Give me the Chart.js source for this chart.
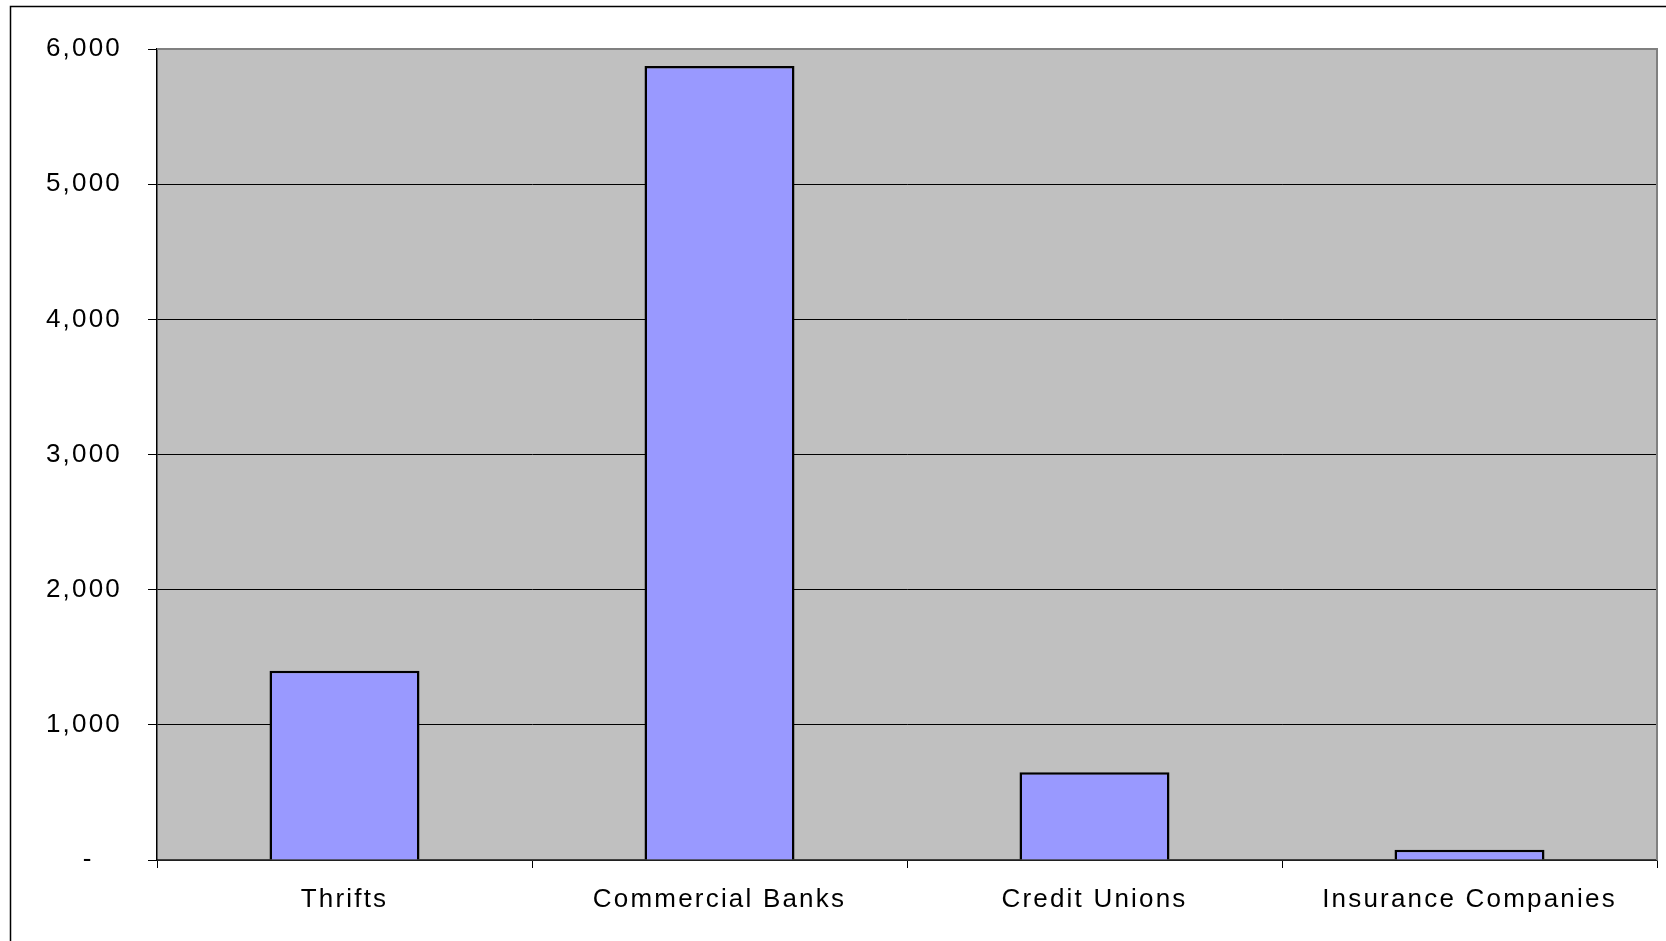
<!DOCTYPE html>
<html>
<head>
<meta charset="utf-8">
<script src="https://cdn.jsdelivr.net/npm/chart.js@4"></script>
<style>
  html, body { margin: 0; padding: 0; background: #fff; overflow: hidden; }
  #wrap { position: relative; width: 1666px; height: 941px; }
</style>
</head>
<body>
<div id="wrap"><canvas id="c" width="1666" height="941"></canvas></div>
<script>
const categories = ["Thrifts", "Commercial Banks", "Credit Unions", "Insurance Companies"];
const values = [1400, 5875, 650, 75];
const yTicks = [0, 1000, 2000, 3000, 4000, 5000, 6000];
const zeroLabel = "-   ";

const spacing = {
  id: 'spacing',
  beforeUpdate(chart) { chart.ctx.letterSpacing = '2.2px'; },
  beforeDraw(chart) {
    const ctx = chart.ctx;
    ctx.letterSpacing = '2.2px';
    ctx.save();
    ctx.fillStyle = '#fff';
    ctx.fillRect(0, 0, chart.width, chart.height);
    ctx.strokeStyle = '#000';
    ctx.lineWidth = 1.5;
    ctx.strokeRect(10.5, 6.5, chart.width + 20, chart.height + 20);
    const a = chart.chartArea;
    ctx.fillStyle = '#C0C0C0';
    ctx.fillRect(a.left, a.top, a.right - a.left, a.bottom - a.top);
    ctx.restore();
  },
  afterDatasetsDraw(chart) {
    const ctx = chart.ctx;
    const a = chart.chartArea;
    ctx.save();
    ctx.strokeStyle = '#808080';
    ctx.lineWidth = 2;
    ctx.beginPath();
    ctx.moveTo(a.left, a.top);
    ctx.lineTo(a.right, a.top);
    ctx.lineTo(a.right, a.bottom);
    ctx.stroke();
    ctx.restore();
  }
};

new Chart(document.getElementById('c'), {
  type: 'bar',
  data: {
    labels: categories,
    datasets: [{
      data: values,
      backgroundColor: '#9999FF',
      borderColor: '#000',
      borderWidth: 2.5,
      barPercentage: 0.4,
      categoryPercentage: 1.0
    }]
  },
  plugins: [spacing],
  options: {
    responsive: false,
    animation: false,
    devicePixelRatio: 1,
    layout: { padding: { left: 0, top: 49, right: 9, bottom: 0 } },
    plugins: { legend: { display: false }, tooltip: { enabled: false } },
    scales: {
      x: {
        offset: true,
        afterFit(s) { s.height = 81; },
        grid: { offset: true, drawOnChartArea: false, drawTicks: true, tickLength: 8, color: '#000', lineWidth: 1 },
        border: { display: true, color: '#404040', width: 1.5 },
        ticks: {
          color: '#000',
          padding: 16,
          maxRotation: 0,
          autoSkip: false,
          font: { family: 'Liberation Sans, Arial, sans-serif', size: 26 }
        }
      },
      y: {
        min: 0,
        max: 6000,
        afterFit(s) { s.width = 157; },
        afterBuildTicks(s) { s.ticks = yTicks.map(v => ({ value: v })); },
        grid: { color: '#000', lineWidth: 1, drawTicks: true, tickLength: 9, tickColor: '#000' },
        border: { display: true, color: '#000', width: 1.5 },
        ticks: {
          color: '#000',
          padding: 26,
          font: { family: 'Liberation Sans, Arial, sans-serif', size: 26 },
          callback(v) { return v === 0 ? zeroLabel : v.toLocaleString('en-US'); }
        }
      }
    }
  }
});
</script>
</body>
</html>
